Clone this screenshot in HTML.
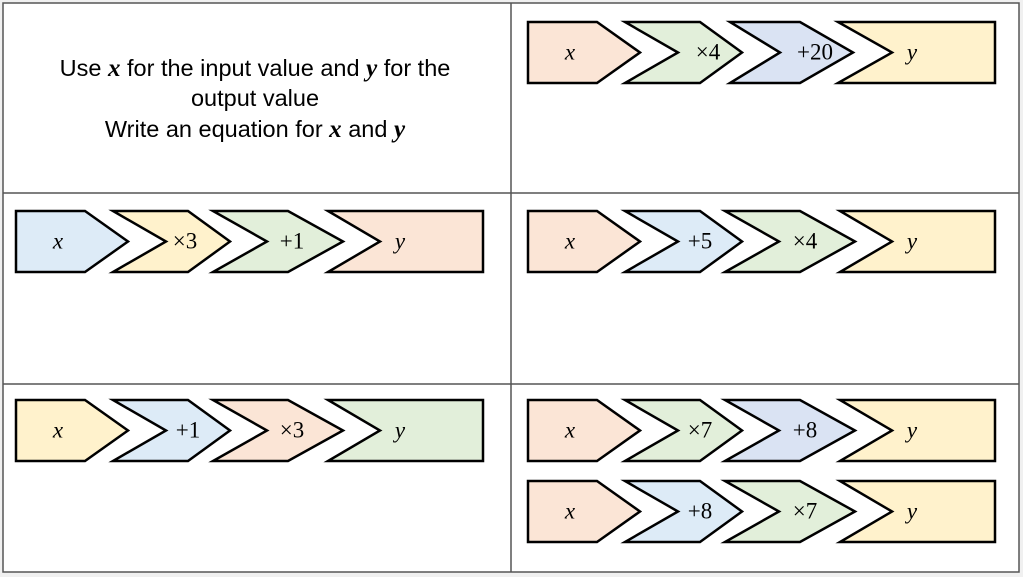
<!DOCTYPE html>
<html><head><meta charset="utf-8"><style>
html,body{margin:0;padding:0;background:#fff;}
svg{display:block}
.m{font-family:"Liberation Serif",serif;font-size:23px;text-anchor:middle;dominant-baseline:central}
.i{font-style:italic}
.t{font-family:"Liberation Sans",sans-serif;font-size:23.5px;text-anchor:middle}
.b{font-family:"Liberation Serif",serif;font-style:italic;font-weight:bold;font-size:25px}
</style></head><body>
<svg width="1023" height="577" viewBox="0 0 1023 577">
<rect x="0" y="0" width="1023" height="577" fill="#f0f0f0"/>
<rect x="3" y="3" width="1016" height="569" fill="#fff" stroke="#555" stroke-width="1.5"/>
<line x1="3" y1="193" x2="1019" y2="193" stroke="#555" stroke-width="1.5"/>
<line x1="3" y1="384" x2="1019" y2="384" stroke="#555" stroke-width="1.5"/>
<line x1="511" y1="3" x2="511" y2="572" stroke="#555" stroke-width="1.5"/>

<text class="t" x="255" y="76">Use <tspan class="b">x</tspan> for the input value and <tspan class="b">y</tspan> for the</text>
<text class="t" x="255" y="106">output value</text>
<text class="t" x="255" y="137">Write an equation for <tspan class="b">x</tspan> and <tspan class="b">y</tspan></text>

<g stroke="#000" stroke-width="2.5" stroke-linejoin="miter">
<g transform="translate(528,22)">
<polygon points="0,0 69,0 112,30.5 69,61 0,61" fill="#fbe5d6"/>
<polygon points="97,0 172,0 214,30.5 172,61 97,61 150,30.5" fill="#e2efda"/>
<polygon points="202,0 272,0 325,30.5 272,61 202,61 252,30.5" fill="#dae3f3"/>
<polygon points="310,0 467,0 467,61 310,61 364,30.5" fill="#fff2cc"/>
</g>
<g transform="translate(16,211)">
<polygon points="0,0 69,0 112,30.5 69,61 0,61" fill="#ddebf7"/>
<polygon points="97,0 172,0 214,30.5 172,61 97,61 150,30.5" fill="#fff2cc"/>
<polygon points="197,0 272,0 327,30.5 272,61 197,61 251,30.5" fill="#e2efda"/>
<polygon points="312,0 467,0 467,61 312,61 364,30.5" fill="#fbe5d6"/>
</g>
<g transform="translate(528,211)">
<polygon points="0,0 69,0 112,30.5 69,61 0,61" fill="#fbe5d6"/>
<polygon points="97,0 172,0 214,30.5 172,61 97,61 150,30.5" fill="#ddebf7"/>
<polygon points="197,0 272,0 327,30.5 272,61 197,61 251,30.5" fill="#e2efda"/>
<polygon points="312,0 467,0 467,61 312,61 364,30.5" fill="#fff2cc"/>
</g>
<g transform="translate(16,400)">
<polygon points="0,0 69,0 112,30.5 69,61 0,61" fill="#fff2cc"/>
<polygon points="97,0 172,0 214,30.5 172,61 97,61 150,30.5" fill="#ddebf7"/>
<polygon points="197,0 272,0 327,30.5 272,61 197,61 251,30.5" fill="#fbe5d6"/>
<polygon points="312,0 467,0 467,61 312,61 364,30.5" fill="#e2efda"/>
</g>
<g transform="translate(528,400)">
<polygon points="0,0 69,0 112,30.5 69,61 0,61" fill="#fbe5d6"/>
<polygon points="97,0 172,0 214,30.5 172,61 97,61 150,30.5" fill="#e2efda"/>
<polygon points="197,0 272,0 327,30.5 272,61 197,61 251,30.5" fill="#dae3f3"/>
<polygon points="312,0 467,0 467,61 312,61 364,30.5" fill="#fff2cc"/>
</g>
<g transform="translate(528,481)">
<polygon points="0,0 69,0 112,30.5 69,61 0,61" fill="#fbe5d6"/>
<polygon points="97,0 172,0 214,30.5 172,61 97,61 150,30.5" fill="#ddebf7"/>
<polygon points="197,0 272,0 327,30.5 272,61 197,61 251,30.5" fill="#e2efda"/>
<polygon points="312,0 467,0 467,61 312,61 364,30.5" fill="#fff2cc"/>
</g>
</g>

<g>
<text class="m i" x="570" y="52">x</text><text class="m" x="708" y="52">×4</text><text class="m" x="815" y="52">+20</text><text class="m i" x="912" y="52">y</text>
<text class="m i" x="58" y="241">x</text><text class="m" x="185" y="241">×3</text><text class="m" x="292" y="241">+1</text><text class="m i" x="400" y="241">y</text>
<text class="m i" x="570" y="241">x</text><text class="m" x="700" y="241">+5</text><text class="m" x="805" y="241">×4</text><text class="m i" x="912" y="241">y</text>
<text class="m i" x="58" y="430">x</text><text class="m" x="188" y="430">+1</text><text class="m" x="292" y="430">×3</text><text class="m i" x="400" y="430">y</text>
<text class="m i" x="570" y="430">x</text><text class="m" x="700" y="430">×7</text><text class="m" x="805" y="430">+8</text><text class="m i" x="912" y="430">y</text>
<text class="m i" x="570" y="511">x</text><text class="m" x="700" y="511">+8</text><text class="m" x="805" y="511">×7</text><text class="m i" x="912" y="511">y</text>
</g>
</svg>
</body></html>
